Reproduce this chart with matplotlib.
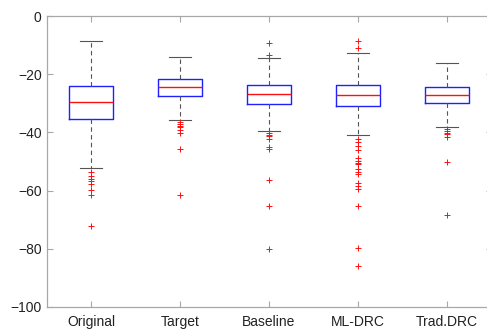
import matplotlib
matplotlib.use('Agg')
import matplotlib.pyplot as plt

# values
labels = ['Original', 'Target', 'Baseline', 'ML-DRC', 'Trad.DRC']
medians = [-29.7, -24.5, -26.9, -27.1, -27.1]
q1 = [-35.5, -27.5, -30.3, -30.8, -30.0]
q3 = [-24.1, -21.6, -23.8, -23.6, -24.3]
whisk_lo = [-52.2, -35.8, -39.6, -40.8, -38.2]
whisk_hi = [-8.5, -14.0, -14.4, -12.8, -16.0]
outliers = [
    [-53.6, -55.0, -55.9, -56.8, -57.9, -59.9, -61.6, -72.2],
    [-36.5, -37.1, -37.7, -38.0, -39.1, -40.3, -45.8, -61.4],
    [-9.4, -13.5, -40.3, -40.8, -41.2, -42.4, -44.9, -45.6, -56.5, -65.3, -80.2],
    [-8.7, -10.9, -42.3, -43.4, -44.6, -46.0, -48.9, -49.8, -50.4, -51.0,
     -52.7, -53.7, -54.4, -57.3, -58.4, -59.5, -65.3, -79.8, -85.9],
    [-38.9, -39.6, -40.1, -40.7, -41.5, -50.1, -68.5],
]

stats = []
for i in range(len(labels)):
    stats.append(dict(med=medians[i], q1=q1[i], q3=q3[i],
                      whislo=whisk_lo[i], whishi=whisk_hi[i],
                      fliers=outliers[i], label=labels[i]))

plt.rcParams['font.family'] = ['Liberation Sans', 'DejaVu Sans']

fig = plt.figure(figsize=(4.87, 3.34), dpi=100)
ax = fig.add_axes([46.5 / 487, 27 / 334, 445 / 487, 291 / 334])

bp = ax.bxp(stats, widths=0.5, capwidths=0.25,
            whiskerprops=dict(linestyle=(0, (4, 3))))

for line in bp['boxes']:
    line.set_color('#2020ff')
    line.set_linewidth(1.0)
for line in bp['medians']:
    line.set_color('#ff1010')
    line.set_linewidth(1.0)
for line in bp['whiskers']:
    line.set_color('#555555')
    line.set_linewidth(0.8)
for line in bp['caps']:
    line.set_color('#555555')
    line.set_linewidth(0.8)
for line in bp['fliers']:
    line.set_marker('+')
    line.set_markeredgecolor('#ff1010')
    line.set_markersize(4.5)
    line.set_markeredgewidth(0.7)

ax.set_xlim(0.5, 5.5)
ax.set_ylim(-100, 0)
ax.set_yticks([-100, -80, -60, -40, -20, 0])

for s in ax.spines.values():
    s.set_color('#a8a8a8')
    s.set_linewidth(0.9)

ax.tick_params(direction='in', length=4, width=0.8, color='#a8a8a8',
               labelsize=10, labelcolor='#222222', top=True, right=True)
ax.tick_params(axis='x', pad=6)

fig.savefig('out.png', dpi=100)
